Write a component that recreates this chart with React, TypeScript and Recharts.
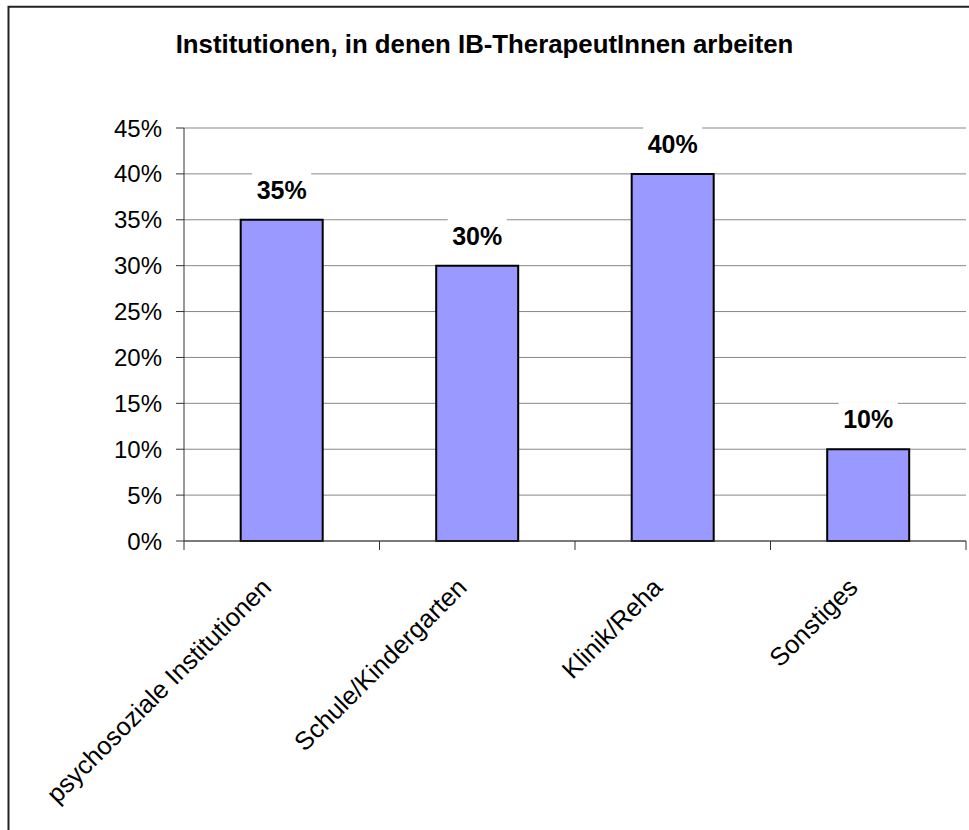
import { Bar, BarChart, CartesianGrid, LabelList, XAxis, YAxis } from 'recharts'

const categories = ['psychosoziale Institutionen', 'Schule/Kindergarten', 'Klinik/Reha', 'Sonstiges']
const shares = [35, 30, 40, 10]
const yTicks = [0, 5, 10, 15, 20, 25, 30, 35, 40, 45]
const title = 'Institutionen, in denen IB-TherapeutInnen arbeiten'

const data = categories.map((name, i) => ({ name, value: shares[i] }))
const font = '"Liberation Sans", Arial, sans-serif'

function CategoryTick(props: any) {
  const { x, y, payload, index } = props
  const half = payload.offset ?? 0
  const last = index === categories.length - 1
  const tx = x - 9
  const ty = y + 48
  return (
    <g>
      <line x1={x - half} y1={y} x2={x - half} y2={y + 9} stroke="#333" strokeWidth={1} />
      {last && <line x1={x + half} y1={y} x2={x + half} y2={y + 9} stroke="#333" strokeWidth={1} />}
      <text
        x={tx}
        y={ty}
        transform={`rotate(-45, ${tx}, ${ty})`}
        textAnchor="end"
        fontSize={25.5}
        fontFamily={font}
        fill="#000"
      >
        {payload.value}
      </text>
    </g>
  )
}

function ValueLabel(props: any) {
  const { x, y, width, value } = props
  const cx = x + width / 2
  const base = y - 21
  return (
    <g>
      <rect x={cx - 29.5} y={base - 26} width={59} height={32} fill="#fff" />
      <text x={cx} y={base} textAnchor="middle" fontSize={25} fontWeight="bold" fontFamily={font} fill="#000">
        {`${value}%`}
      </text>
    </g>
  )
}

export default function App() {
  return (
    <div style={{ position: 'absolute', left: 0, top: 0, width: 969, height: 830, overflow: 'hidden', background: '#fff' }}>
      <svg width={969} height={830} style={{ position: 'absolute', left: 0, top: 0 }}>
        <path d="M8.5,830 V6.7 H969" fill="none" stroke="#222" strokeWidth={2} />
        <text x={484.5} y={53} textAnchor="middle" fontSize={25.8} fontWeight="bold" fontFamily={font} fill="#000">
          {title}
        </text>
      </svg>
      <div style={{ position: 'absolute', left: 0, top: 0 }}>
        <BarChart
          width={969}
          height={830}
          data={data}
          margin={{ top: 128, right: 3, left: 124, bottom: 229 }}
          barCategoryGap="29%"
        >
          <CartesianGrid vertical={false} stroke="#888" strokeWidth={1} />
          <XAxis
            dataKey="name"
            height={60}
            interval={0}
            tickSize={0}
            tickMargin={0}
            tickLine={false}
            axisLine={{ stroke: '#333', strokeWidth: 1 }}
            tick={<CategoryTick />}
          />
          <YAxis
            width={60}
            domain={[0, 45]}
            ticks={yTicks}
            interval={0}
            tickFormatter={(v: number) => `${v}%`}
            tickSize={8}
            tickMargin={14}
            tickLine={{ stroke: '#333' }}
            axisLine={{ stroke: '#333', strokeWidth: 1 }}
            tick={{ fill: '#000', fontSize: 24, fontFamily: font }}
          />
          <YAxis yAxisId="right" orientation="right" width={0} domain={[0, 45]} tick={false} tickLine={false} axisLine={{ stroke: '#999', strokeWidth: 1.5 }} />
          <Bar dataKey="value" fill="#9999FF" stroke="#000" strokeWidth={2} isAnimationActive={false}>
            <LabelList dataKey="value" content={<ValueLabel />} />
          </Bar>
        </BarChart>
      </div>
    </div>
  )
}
